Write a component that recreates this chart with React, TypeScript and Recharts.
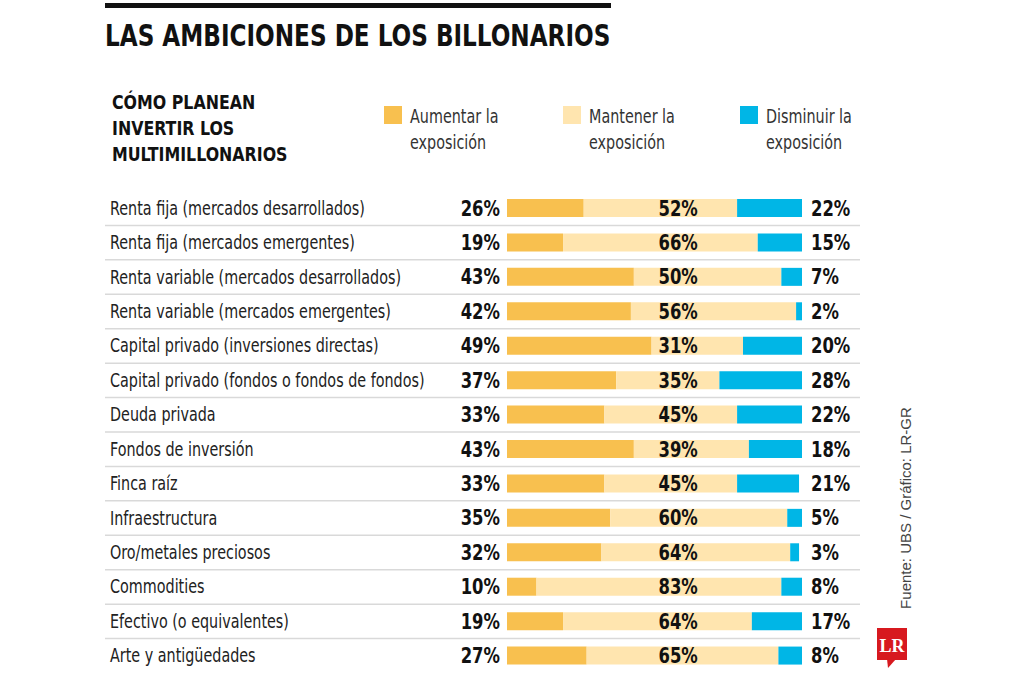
import React from 'react'
import { Bar, BarChart, LabelList, XAxis, YAxis } from 'recharts'

// data
const categories = [
  'Renta fija (mercados desarrollados)',
  'Renta fija (mercados emergentes)',
  'Renta variable (mercados desarrollados)',
  'Renta variable (mercados emergentes)',
  'Capital privado (inversiones directas)',
  'Capital privado (fondos o fondos de fondos)',
  'Deuda privada',
  'Fondos de inversión',
  'Finca raíz',
  'Infraestructura',
  'Oro/metales preciosos',
  'Commodities',
  'Efectivo (o equivalentes)',
  'Arte y antigüedades',
]
const aumentar = [26, 19, 43, 42, 49, 37, 33, 43, 33, 35, 32, 10, 19, 27]
const mantener = [52, 66, 50, 56, 31, 35, 45, 39, 45, 60, 64, 83, 64, 65]
const disminuir = [22, 15, 7, 2, 20, 28, 22, 18, 21, 5, 3, 8, 17, 8]

const legendItems = [
  { label: 'Aumentar la', color: '#f8c04f' },
  { label: 'Mantener la', color: '#ffe5af' },
  { label: 'Disminuir la', color: '#00b6e6' },
]

const data = categories.map((name, i) => ({
  name,
  up: aumentar[i],
  keep: mantener[i],
  down: disminuir[i],
}))

const W = 1024
const H = 683
const M = { top: 191, right: 222, bottom: 10, left: 0 }
const PLOT_LEFT = 507
const PLOT_RIGHT = W - M.right
const PLOT_W = PLOT_RIGHT - PLOT_LEFT
const ROW_H = (H - M.top - M.bottom) / categories.length

// no narrow font installed, so the condensed face is squeezed a bit more
const NARROW = '"DejaVu Sans Condensed", "DejaVu Sans", sans-serif'

function SText({ x, y, sx = 0.84, anchor = 'start', children, ...rest }: any) {
  return (
    <text
      transform={`translate(${x} ${y}) scale(${sx} 1)`}
      textAnchor={anchor}
      fontFamily={NARROW}
      {...rest}
    >
      {children}
    </text>
  )
}

function CategoryTick(props: any) {
  const { y, payload, index } = props
  return (
    <g>
      <SText x={110} y={y + 6.5} fontSize={19} fill="#222">
        {payload.value}
      </SText>
      {index < categories.length - 1 && (
        <line
          x1={105}
          x2={860}
          y1={y + ROW_H / 2}
          y2={y + ROW_H / 2}
          stroke="#d9d9d9"
          strokeWidth={1.5}
        />
      )}
    </g>
  )
}

const valueLabel = (where: 'left' | 'mid' | 'right') => (props: any) => {
  const { y, height, value } = props
  let x = PLOT_LEFT - 7
  let anchor = 'end'
  if (where === 'mid') {
    x = PLOT_LEFT + PLOT_W * 0.58
    anchor = 'middle'
  } else if (where === 'right') {
    x = PLOT_RIGHT + 9
    anchor = 'start'
  }
  return (
    <SText
      x={x}
      y={y + height / 2 + 7.5}
      anchor={anchor}
      sx={0.83}
      fontWeight={700}
      fontSize={22}
      fill="#111"
    >
      {value}%
    </SText>
  )
}

export default function App() {
  return (
    <div
      style={{
        position: 'absolute',
        left: 0,
        top: 0,
        width: W,
        height: H,
        background: '#fff',
        overflow: 'hidden',
      }}
    >
      <svg width={W} height={H} style={{ position: 'absolute', left: 0, top: 0 }}>
        <rect x={105} y={3} width={506} height={5} fill="#111" />
        <SText x={105} y={46} sx={0.83} fontWeight={700} fontSize={31} fill="#111">
          LAS AMBICIONES DE LOS BILLONARIOS
        </SText>
        {['CÓMO PLANEAN', 'INVERTIR LOS', 'MULTIMILLONARIOS'].map((t, i) => (
          <SText
            key={t}
            x={112}
            y={109 + i * 26}
            sx={0.88}
            fontWeight={700}
            fontSize={20}
            fill="#111"
          >
            {t}
          </SText>
        ))}
        {legendItems.map((d, i) => {
          const lx = [384, 563, 740][i]
          return (
            <g key={d.label}>
              <rect x={lx} y={106} width={18} height={18} fill={d.color} />
              <SText x={lx + 26} y={123} fontSize={19} fill="#333">
                {d.label}
              </SText>
              <SText x={lx + 26} y={149} fontSize={19} fill="#333">
                exposición
              </SText>
            </g>
          )
        })}
        <text
          x={911}
          y={508}
          textAnchor="middle"
          transform="rotate(-90 911 508)"
          fontFamily='"Liberation Sans", sans-serif'
          fontSize={15}
          fill="#444"
        >
          Fuente: UBS / Gráfico: LR-GR
        </text>
        <rect x={877} y={628} width={30} height={32} fill="#d7191f" />
        <polygon points="887,659 896,659 888,668" fill="#d7191f" />
        <text
          x={892}
          y={652}
          textAnchor="middle"
          fontFamily='"Liberation Serif", "DejaVu Serif", serif'
          fontWeight={700}
          fontSize={18}
          fill="#fff"
        >
          LR
        </text>
      </svg>
      <div style={{ position: 'absolute', left: 0, top: 0 }}>
        <BarChart width={W} height={H} data={data} layout="vertical" margin={M} barSize={18}>
          <XAxis type="number" domain={[0, 100]} allowDataOverflow hide />
          <YAxis
            type="category"
            dataKey="name"
            width={PLOT_LEFT}
            axisLine={false}
            tickLine={false}
            interval={0}
            tick={<CategoryTick />}
          />
          <Bar dataKey="up" stackId="a" fill="#f8c04f" isAnimationActive={false}>
            <LabelList dataKey="up" content={valueLabel('left')} />
          </Bar>
          <Bar dataKey="keep" stackId="a" fill="#ffe5af" isAnimationActive={false}>
            <LabelList dataKey="keep" content={valueLabel('mid')} />
          </Bar>
          <Bar dataKey="down" stackId="a" fill="#00b6e6" isAnimationActive={false}>
            <LabelList dataKey="down" content={valueLabel('right')} />
          </Bar>
        </BarChart>
      </div>
    </div>
  )
}
